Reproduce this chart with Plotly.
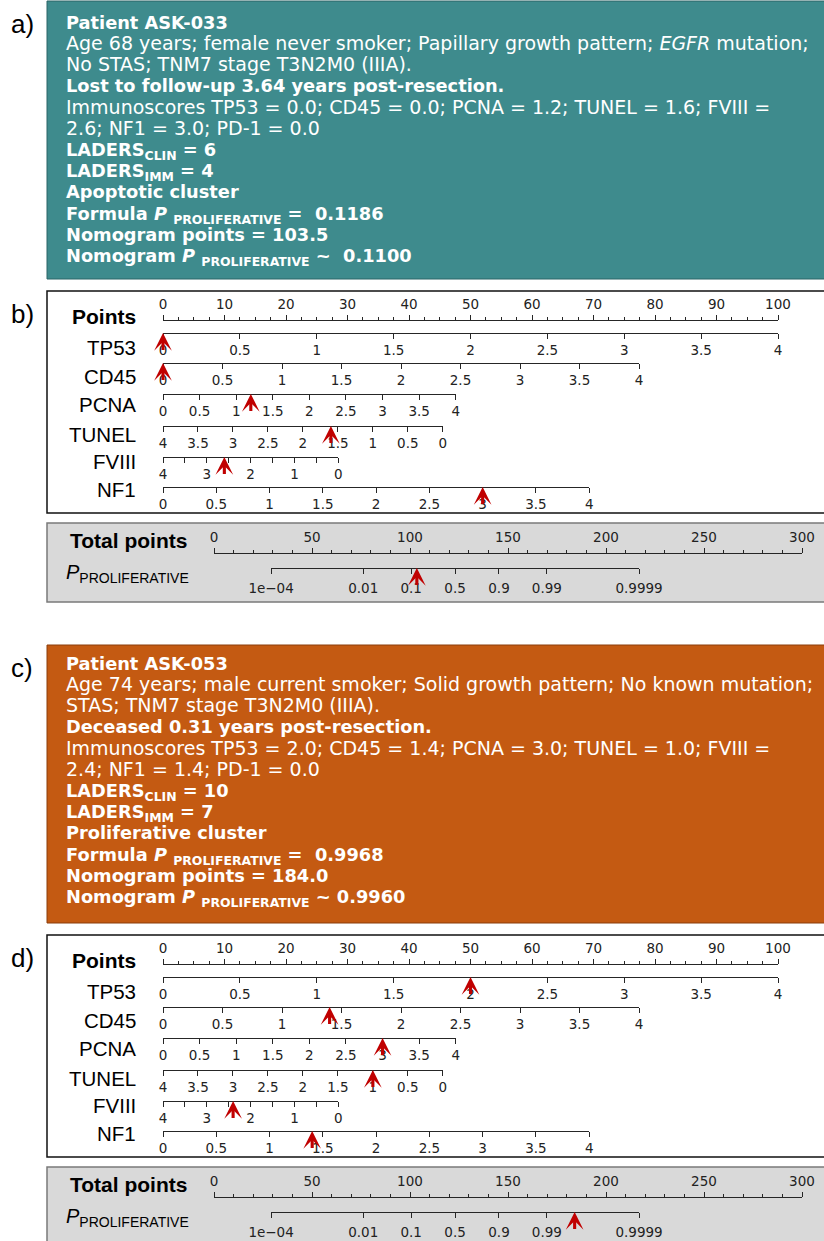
import math
import plotly.graph_objects as go

W, H = 824, 1241

# ---------------- data ----------------
variables = ["TP53", "CD45", "PCNA", "TUNEL", "FVIII", "NF1"]
var_min = [0, 0, 0, 0, 0, 0]
var_max = [4, 4, 4, 4, 4, 4]
var_reversed = [False, False, False, True, True, False]
var_max_points = [100, 77.4, 47.6, 45.5, 28.5, 69.3]
var_tick_step = [0.5, 0.5, 0.5, 0.5, 1.0, 0.5]
var_minor_step = [None, None, None, None, 0.5, None]

points_range = [0, 100]
total_range = [0, 300]
prob_ticks = [1e-4, 0.01, 0.1, 0.5, 0.9, 0.99, 0.9999]
prob_labels = ["1e\u221204", "0.01", "0.1", "0.5", "0.9", "0.99", "0.9999"]
lp_per_point = 0.0981
lp_zero_total = 123.0

patient_ids = ["ASK-033", "ASK-053"]
patient_desc1 = ["Age 68 years; female never smoker; Papillary growth pattern; <i>EGFR</i> mutation;",
                 "Age 74 years; male current smoker; Solid growth pattern; No known mutation;"]
patient_desc2 = ["No STAS; TNM7 stage T3N2M0 (IIIA).", "STAS; TNM7 stage T3N2M0 (IIIA)."]
patient_outcome = ["Lost to follow-up 3.64 years post-resection.", "Deceased 0.31 years post-resection."]
scores = [[0.0, 0.0, 1.2, 1.6, 2.6, 3.0],
          [2.0, 1.4, 3.0, 1.0, 2.4, 1.4]]
pd1 = [0.0, 0.0]
laders_clin = [6, 10]
laders_imm = [4, 7]
clusters = ["Apoptotic", "Proliferative"]
formula_p = [0.1186, 0.9968]
nomogram_points = [103.5, 184.0]
nomogram_p = [0.1100, 0.9960]
nomo_p_sep = [" ~  ", " ~ "]

# ---------------- geometry ----------------
PTS_PX0, PTS_PX100 = 163, 778
TOT_PX0, TOT_PX300 = 214, 802
OFFSETS = [0, 644]
TEXT_TOP = [22, 663]
LINE_STEP = 21.2
box_colors = ["#3E8B8D", "#C45A12"]
box_edges = ["#2B6466", "#8A3D0A"]
AXC = "#262626"
TICKFONT = "DejaVu Sans"
ARIAL = "Liberation Sans"
REG_SIZE, BOLD_SIZE = 19.0, 17.8


def pts_px(p):
    return PTS_PX0 + (PTS_PX100 - PTS_PX0) * (p - points_range[0]) / (points_range[1] - points_range[0])


def tot_px(t):
    return TOT_PX0 + (TOT_PX300 - TOT_PX0) * (t - total_range[0]) / (total_range[1] - total_range[0])


def logit(p):
    return math.log(p / (1 - p))


def total_for_lp(lp):
    return lp_zero_total + lp / lp_per_point


layout_axes = {}
traces = []
annotations = []
shapes = []
axis_count = [0]


def new_axis(domain_px, rng, line_y, side, **kw):
    axis_count[0] += 1
    n = axis_count[0]
    name = "xaxis" if n == 1 else f"xaxis{n}"
    ref = "x" if n == 1 else f"x{n}"
    ax = dict(domain=[domain_px[0] / W, domain_px[1] / W], range=rng, anchor="free",
              position=1 - line_y / H, side=side, showline=True, linecolor=AXC, linewidth=1.3,
              ticks="outside", ticklen=5, tickwidth=1.2, tickcolor=AXC, showgrid=False,
              zeroline=False, tickfont=dict(family=TICKFONT, size=13.5, color="#222"),
              fixedrange=True, automargin=False)
    ax.update(kw)
    layout_axes[name] = ax
    traces.append(go.Scatter(x=[rng[0], rng[1]], y=[line_y, line_y], xaxis=ref, yaxis="y",
                             mode="markers", marker=dict(opacity=0), hoverinfo="skip",
                             showlegend=False))
    return ref


def rect(x0, y0, x1, y1, fill, line, lw):
    shapes.append(dict(type="rect", xref="paper", yref="y", x0=x0 / W, x1=x1 / W, y0=y0, y1=y1,
                       fillcolor=fill, line=dict(color=line, width=lw), layer="below"))


def text(x, y, s, size, color="black", family=ARIAL, anchor="left"):
    annotations.append(dict(xref="paper", yref="y", x=x / W, y=y, text=s, showarrow=False,
                            xanchor=anchor, yanchor="middle", borderpad=0,
                            font=dict(family=family, size=size, color=color)))


def arrow(xref, xval, y):
    annotations.append(dict(xref=xref, yref="y", x=xval, y=y, text=" ", showarrow=True,
                            ax=0, ay=19, axref="pixel", ayref="pixel", arrowhead=3,
                            arrowsize=0.95, arrowwidth=3.1, arrowcolor="#C00000", standoff=0,
                            font=dict(size=1)))


panel_letters = [["a)", "b)"], ["c)", "d)"]]
row_line_y = [333, 363, 394, 426, 457, 487]
row_label_y = [347, 376, 404, 434, 461, 489]

for k in range(2):
    o = OFFSETS[k]
    # ---- text box ----
    rect(47, 1 + o, 830, 279 + o, box_colors[k], box_edges[k], 1)
    sc = scores[k]
    parts = [f"{n} = {v:.1f}" for n, v in zip(variables, sc)]
    lines = [
        (f"<b>Patient {patient_ids[k]}</b>", 0, True),
        (patient_desc1[k], 0, False),
        (patient_desc2[k], 0, False),
        (f"<b>{patient_outcome[k]}</b>", 0, True),
        ("Immunoscores " + "; ".join(parts[:4]) + f"; {variables[4]} =", 0, False),
        (f"{sc[4]:.1f}; {variables[5]} = {sc[5]:.1f}; PD-1 = {pd1[k]:.1f}", 0, False),
        (f"<b>LADERS<sub>CLIN</sub> = {laders_clin[k]}</b>", 2, True),
        (f"<b>LADERS<sub>IMM</sub> = {laders_imm[k]}</b>", 2, True),
        (f"<b>{clusters[k]} cluster</b>", 0, True),
        (f"<b>Formula <i>P</i> <sub>PROLIFERATIVE</sub> =  {formula_p[k]:.4f}</b>", 2, True),
        (f"<b>Nomogram points = {nomogram_points[k]:.1f}</b>", 0, True),
        (f"<b>Nomogram <i>P</i> <sub>PROLIFERATIVE</sub>{nomo_p_sep[k]}{nomogram_p[k]:.4f}</b>", 2, True),
    ]
    for i, (s, dy, bold) in enumerate(lines):
        text(65, TEXT_TOP[k] + i * LINE_STEP + dy, s, BOLD_SIZE if bold else REG_SIZE,
             "white", TICKFONT)
    text(22, 24 + o, panel_letters[k][0], 26, anchor="center")

    # ---- nomogram box ----
    rect(47, 291 + o, 830, 513 + o, "white", "#111111", 1.5)
    text(22, 314 + o, panel_letters[k][1], 26, anchor="center")
    text(137, 316 + o, "<b>Points</b>", 21, anchor="right")
    new_axis([pts_px(points_range[0]), pts_px(points_range[1])], points_range, 320 + o, "top",
             tickmode="linear", tick0=0, dtick=10,
             minor=dict(dtick=2.5, tick0=0, ticklen=3, tickwidth=1, tickcolor=AXC, ticks="outside"))
    for j, v in enumerate(variables):
        lo, hi = var_min[j], var_max[j]
        rng = [hi, lo] if var_reversed[j] else [lo, hi]
        extra = {}
        if var_minor_step[j]:
            extra["minor"] = dict(dtick=var_minor_step[j], tick0=0, ticklen=5, tickwidth=1.2,
                                  tickcolor=AXC, ticks="outside")
        ref = new_axis([pts_px(0), pts_px(var_max_points[j])], rng, row_line_y[j] + o, "bottom",
                       tickmode="linear", tick0=0, dtick=var_tick_step[j], **extra)
        text(137, row_label_y[j] + o, v, 20.5, anchor="right")
        arrow(ref, sc[j], row_line_y[j] + o)

    # ---- total points box ----
    rect(47, 523 + o, 830, 602 + o, "#D9D9D9", "#7A7A7A", 1.5)
    text(188, 540 + o, "<b>Total points</b>", 21, anchor="right")
    text(65, 573 + o, "<i>P</i><sub>PROLIFERATIVE</sub>", 20, anchor="left")
    tref = new_axis([tot_px(total_range[0]), tot_px(total_range[1])], total_range, 553 + o, "top",
                    tickmode="linear", tick0=0, dtick=50,
                    minor=dict(dtick=10, tick0=0, ticklen=3, tickwidth=1, tickcolor=AXC, ticks="outside"))
    lp_lo, lp_hi = logit(prob_ticks[0]), logit(prob_ticks[-1])
    eps = 1e-6
    new_axis([tot_px(total_for_lp(lp_lo)), tot_px(total_for_lp(lp_hi))], [lp_lo - eps, lp_hi + eps],
             568 + o, "bottom", tickmode="array", tickvals=[logit(p) for p in prob_ticks],
             ticktext=prob_labels, ticklabelstandoff=3)
    arrow(tref, nomogram_points[k], 568 + o)

fig = go.Figure(data=traces)
fig.update_layout(
    width=W, height=H, margin=dict(l=0, r=0, t=0, b=0, pad=0, autoexpand=False), autosize=False,
    paper_bgcolor="white", plot_bgcolor="rgba(0,0,0,0)", showlegend=False,
    yaxis=dict(domain=[0, 1], range=[H, 0], visible=False, fixedrange=True),
    shapes=shapes, annotations=annotations, **layout_axes,
)
fig.write_html("out.html", config={"displayModeBar": False},
               post_script="document.body.style.margin='0px';document.body.style.overflow='hidden';")
